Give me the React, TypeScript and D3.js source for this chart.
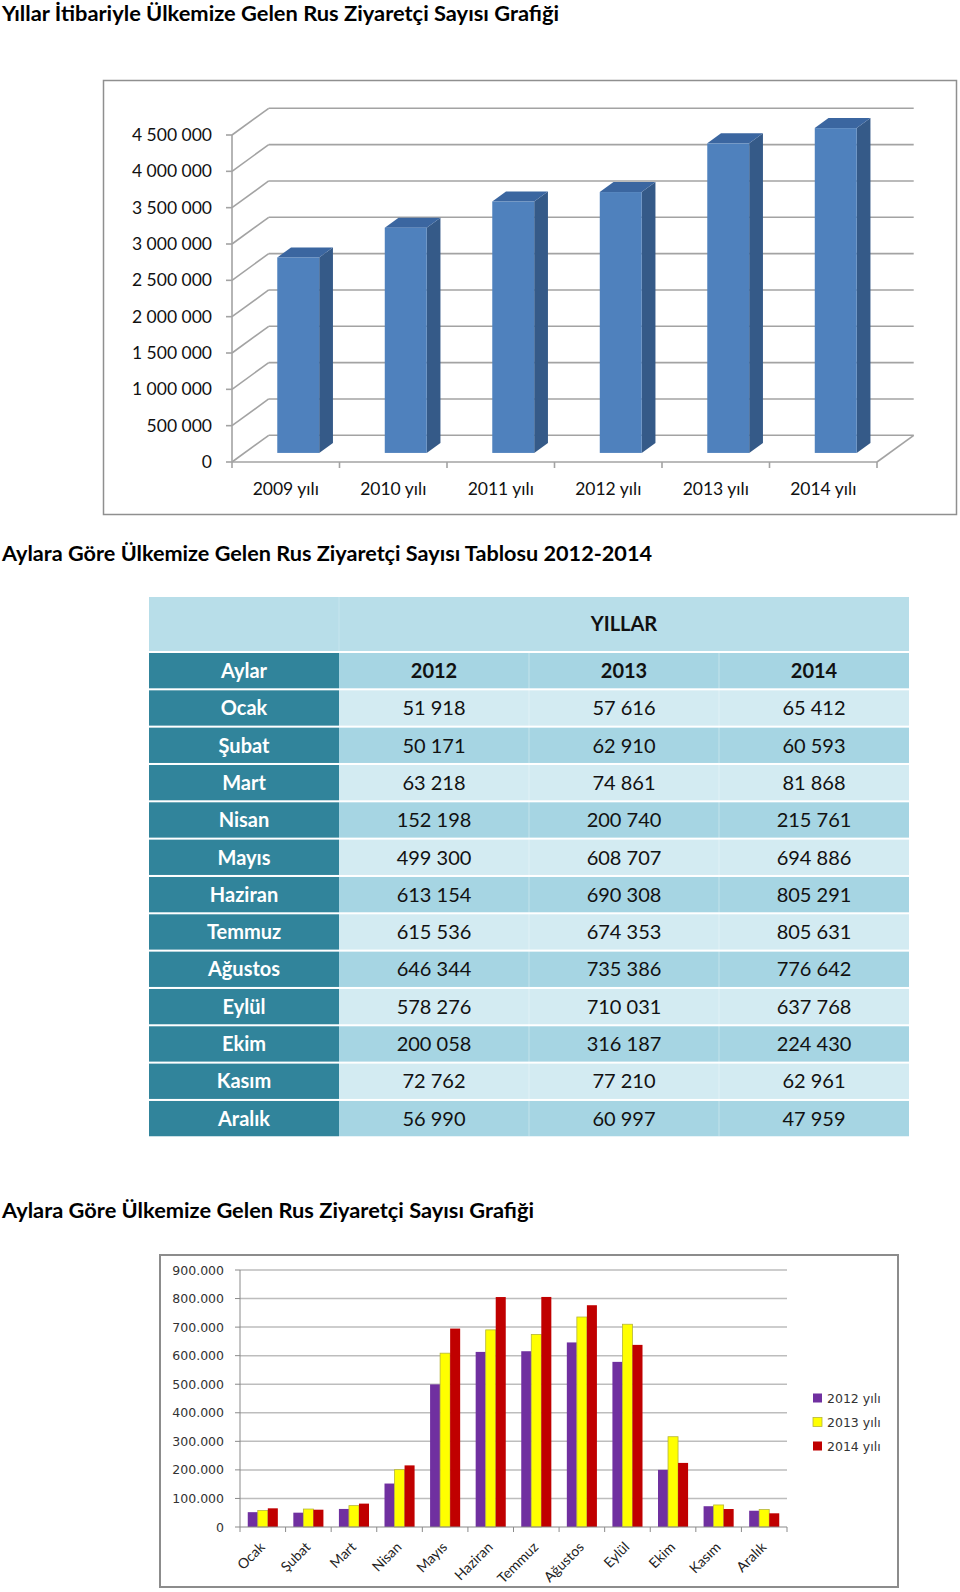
import React from "react";
import * as d3 from "d3";

// ---------- DATA ----------
const years = ["2009 yılı", "2010 yılı", "2011 yılı", "2012 yılı", "2013 yılı", "2014 yılı"];
const yearVisitors = [2690000, 3100000, 3460000, 3590000, 4260000, 4470000];
const topTicks = [0, 500000, 1000000, 1500000, 2000000, 2500000, 3000000, 3500000, 4000000, 4500000];

const months = ["Ocak", "Şubat", "Mart", "Nisan", "Mayıs", "Haziran", "Temmuz", "Ağustos", "Eylül", "Ekim", "Kasım", "Aralık"];
const tableYears = ["2012", "2013", "2014"];
const v2012 = [51918, 50171, 63218, 152198, 499300, 613154, 615536, 646344, 578276, 200058, 72762, 56990];
const v2013 = [57616, 62910, 74861, 200740, 608707, 690308, 674353, 735386, 710031, 316187, 77210, 60997];
const v2014 = [65412, 60593, 81868, 215761, 694886, 805291, 805631, 776642, 637768, 224430, 62961, 47959];
const seriesNames = ["2012 yılı", "2013 yılı", "2014 yılı"];
const bottomTicks = [0, 100000, 200000, 300000, 400000, 500000, 600000, 700000, 800000, 900000];

const title1 = "Yıllar İtibariyle Ülkemize Gelen Rus Ziyaretçi Sayısı Grafiği";
const title2 = "Aylara Göre Ülkemize Gelen Rus Ziyaretçi Sayısı Tablosu 2012-2014";
const title3 = "Aylara Göre Ülkemize Gelen Rus Ziyaretçi Sayısı Grafiği";

const FONT = "Lato, 'Open Sans', sans-serif";
const FONT2 = "'DejaVu Sans', Verdana, sans-serif";

const fmtSpace = (v: number) => d3.format(",")(v).replace(/,/g, " ");
const fmtDot = (v: number) => d3.format(",")(v).replace(/,/g, ".");

function TopChart() {
  const x = d3.scaleBand<string>().domain(years).range([232, 877]);
  const y = d3.scaleLinear().domain([0, 4500000]).range([462, 135]);
  const Dx = 36.7, Dy = -26.7; // depth vector of the 3D box
  const f0 = 0.34, fd = 0.375;
  const bw = x.bandwidth() * 0.39;
  const sx = Dx * fd, sy = Dy * fd;
  const gridColor = "#a3a3a3";
  const x0 = x.range()[0], x1 = x.range()[1];
  return (
    <g>
      <rect x={103.5} y={80.5} width={853} height={434} fill="#fff" stroke="#8f8f8f" strokeWidth={1.5} />
      {topTicks.map((t) => (
        <g key={t}>
          <line x1={x0} y1={y(t)} x2={x0 + Dx} y2={y(t) + Dy} stroke={gridColor} strokeWidth={1.6} />
          <line x1={x0 + Dx} y1={y(t) + Dy} x2={x1 + Dx} y2={y(t) + Dy} stroke={gridColor} strokeWidth={1.6} />
          <line x1={x0 - 6} y1={y(t)} x2={x0} y2={y(t)} stroke={gridColor} strokeWidth={1.6} />
          <text x={212} y={y(t)} dy="0.35em" textAnchor="end" fontFamily={FONT} fontSize={17.5} fill="#111">
            {fmtSpace(t)}
          </text>
        </g>
      ))}
      <line x1={x0} y1={y(4500000)} x2={x0} y2={y(0)} stroke={gridColor} strokeWidth={1.6} />
      <line x1={x0} y1={y(0)} x2={x1} y2={y(0)} stroke={gridColor} strokeWidth={1.6} />
      <line x1={x1} y1={y(0)} x2={x1 + Dx} y2={y(0) + Dy} stroke={gridColor} strokeWidth={1.6} />
      {years.map((c, i) => (
        <line key={"t" + i} x1={x(c)!} y1={y(0)} x2={x(c)!} y2={y(0) + 6} stroke={gridColor} strokeWidth={1.6} />
      ))}
      <line x1={x1} y1={y(0)} x2={x1} y2={y(0) + 6} stroke={gridColor} strokeWidth={1.6} />
      {years.map((c, i) => {
        const xl = x(c)! + x.bandwidth() / 2 - bw / 2 + f0 * Dx;
        const xr = xl + bw;
        const yb = y(0) + f0 * Dy;
        const yt = y(yearVisitors[i]) + f0 * Dy;
        return (
          <g key={c}>
            <polygon points={`${xr},${yb} ${xr + sx},${yb + sy} ${xr + sx},${yt + sy} ${xr},${yt}`} fill="#355a88" />
            <polygon points={`${xl},${yt} ${xr},${yt} ${xr + sx},${yt + sy} ${xl + sx},${yt + sy}`} fill="#3b66a0" />
            <rect x={xl} y={yt} width={bw} height={yb - yt} fill="#4f81bd" />
          </g>
        );
      })}
      {years.map((c) => (
        <text key={"l" + c} x={x(c)! + x.bandwidth() / 2} y={495} textAnchor="middle" fontFamily={FONT} fontSize={17.5} fill="#111">
          {c}
        </text>
      ))}
    </g>
  );
}

function Table() {
  const cols = d3.scaleBand<string>().domain(["Aylar", ...tableYears]).range([149, 909]);
  const rowTop0 = 653;
  const pitch = 37.33;
  const rowH = 35.3;
  const rows = months.map((m, i) => ({ m, vals: [v2012[i], v2013[i], v2014[i]] }));
  const light = "#d3ebf2";
  const mid = "#a6d5e3";
  const dark = "#31849b";
  const cw = cols.bandwidth();
  return (
    <g fontFamily={FONT}>
      <rect x={149} y={597} width={760} height={54} fill="#b8dee9" />
      <line x1={339} y1={597} x2={339} y2={651} stroke="#c6e5ee" strokeWidth={1} />
      <text x={cols("2013")! + cw / 2} y={624} dy="0.35em" textAnchor="middle" fontSize={20} fontWeight={700} fill="#111">
        YILLAR
      </text>
      <rect x={149} y={rowTop0} width={cw} height={rowH} fill={dark} />
      <text x={149 + cw / 2} y={rowTop0 + rowH / 2} dy="0.36em" textAnchor="middle" fontSize={20} fontWeight={700} fill="#fff">
        Aylar
      </text>
      {tableYears.map((yr) => (
        <g key={yr}>
          <rect x={cols(yr)!} y={rowTop0} width={cw} height={rowH} fill={mid} />
          <text x={cols(yr)! + cw / 2} y={rowTop0 + rowH / 2} dy="0.36em" textAnchor="middle" fontSize={20} fontWeight={700} fill="#111">
            {yr}
          </text>
        </g>
      ))}
      {rows.map((r, i) => {
        const top = rowTop0 + (i + 1) * pitch;
        const bg = i % 2 === 0 ? light : mid;
        return (
          <g key={r.m}>
            <rect x={149} y={top} width={cw} height={rowH} fill={dark} />
            <text x={149 + cw / 2} y={top + rowH / 2} dy="0.36em" textAnchor="middle" fontSize={20} fontWeight={700} fill="#fff">
              {r.m}
            </text>
            {tableYears.map((yr, j) => (
              <g key={yr}>
                <rect x={cols(yr)!} y={top} width={cw} height={rowH} fill={bg} />
                <text x={cols(yr)! + cw / 2} y={top + rowH / 2} dy="0.36em" textAnchor="middle" fontSize={20} fill="#111">
                  {fmtSpace(r.vals[j])}
                </text>
              </g>
            ))}
          </g>
        );
      })}
      {tableYears.slice(1).map((yr) => (
        <line key={"v" + yr} x1={cols(yr)!} y1={rowTop0} x2={cols(yr)!} y2={rowTop0 + 13 * pitch - 2} stroke="#ffffff" strokeOpacity={0.35} strokeWidth={1} />
      ))}
    </g>
  );
}

function BottomChart() {
  const x = d3.scaleBand<string>().domain(months).range([240, 787]);
  const inner = d3.scaleBand<string>().domain(seriesNames).range([x.bandwidth() * 0.17, x.bandwidth() * 0.83]);
  const y = d3.scaleLinear().domain([0, 900000]).range([1527, 1270]);
  const series = [v2012, v2013, v2014];
  const fills = ["#7030a0", "#ffff00", "#c00000"];
  const strokes = ["none", "#b5b53a", "none"];
  const grid = "#bdbdbd";
  const axis = "#8a8a8a";
  return (
    <g>
      <rect x={160} y={1255} width={738} height={332} fill="#fff" stroke="#8c8c8c" strokeWidth={2} />
      {bottomTicks.map((t) => (
        <g key={t}>
          {t > 0 && <line x1={240} y1={y(t)} x2={787} y2={y(t)} stroke={grid} strokeWidth={1.5} />}
          <line x1={235} y1={y(t)} x2={240} y2={y(t)} stroke={axis} strokeWidth={1} />
          <text x={224} y={y(t)} dy="0.36em" textAnchor="end" fontFamily={FONT2} fontSize={12.5} fill="#333">
            {t === 0 ? "0" : fmtDot(t)}
          </text>
        </g>
      ))}
      <line x1={240} y1={y(900000)} x2={240} y2={y(0)} stroke={axis} strokeWidth={1} />
      {months.map((m, i) => (
        <g key={m}>
          {series.map((s, k) => {
            const bx = x(m)! + inner(seriesNames[k])!;
            return (
              <rect key={k} x={bx} y={y(s[i])} width={inner.bandwidth()} height={y(0) - y(s[i])} fill={fills[k]} stroke={strokes[k]} strokeWidth={k === 1 ? 0.8 : 0} />
            );
          })}
        </g>
      ))}
      <line x1={240} y1={y(0)} x2={787} y2={y(0)} stroke={axis} strokeWidth={1.2} />
      {months.map((m) => (
        <line key={"tk" + m} x1={x(m)! + x.bandwidth()} y1={y(0)} x2={x(m)! + x.bandwidth()} y2={y(0) + 5} stroke={axis} strokeWidth={1} />
      ))}
      <line x1={240} y1={y(0)} x2={240} y2={y(0) + 5} stroke={axis} strokeWidth={1} />
      {months.map((m) => {
        const cx = x(m)! + x.bandwidth() / 2 + 3;
        const cy = 1548;
        return (
          <text key={"xl" + m} transform={`translate(${cx},${cy}) rotate(-45)`} textAnchor="end" fontFamily={FONT} fontSize={14} fill="#222">
            {m}
          </text>
        );
      })}
      {seriesNames.map((n, k) => {
        const ly = 1398 + k * 24;
        return (
          <g key={n}>
            <rect x={813} y={ly - 4.5} width={9} height={9} fill={fills[k]} stroke={strokes[k]} strokeWidth={k === 1 ? 0.8 : 0} />
            <text x={827} y={ly} dy="0.36em" fontFamily={FONT2} fontSize={12.5} fill="#333">
              {n}
            </text>
          </g>
        );
      })}
    </g>
  );
}

export default function App() {
  return (
    <svg width={960} height={1592} style={{ position: "absolute", left: 0, top: 0, background: "#fff" }}>
      <rect width={960} height={1592} fill="#fff" />
      <text x={2} y={21} fontFamily={FONT} fontWeight={700} fontSize={20} fill="#000" textLength={557} lengthAdjust="spacingAndGlyphs">
        {title1}
      </text>
      <TopChart />
      <text x={2} y={561} fontFamily={FONT} fontWeight={700} fontSize={20} fill="#000" textLength={650} lengthAdjust="spacingAndGlyphs">
        {title2}
      </text>
      <Table />
      <text x={2} y={1218} fontFamily={FONT} fontWeight={700} fontSize={20} fill="#000" textLength={532} lengthAdjust="spacingAndGlyphs">
        {title3}
      </text>
      <BottomChart />
    </svg>
  );
}
